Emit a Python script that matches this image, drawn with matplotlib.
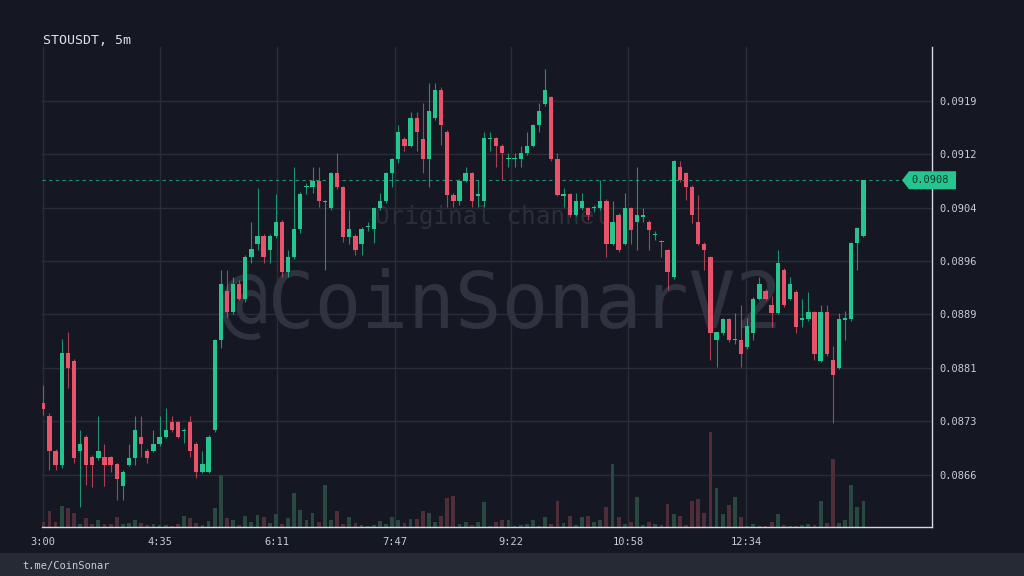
import matplotlib
matplotlib.use('Agg')
import matplotlib.pyplot as plt
from matplotlib.patches import Polygon, Rectangle
from matplotlib.transforms import blended_transform_factory
import numpy as np

# --- data (STOUSDT 5m candles, 3:00 onwards) ---
opens = [
    0.08764, 0.08745, 0.08696, 0.08676, 0.08834, 0.08824, 0.08695, 0.08716, 0.08687, 0.08685,
    0.08687, 0.08687, 0.08677, 0.08646, 0.08676, 0.08685, 0.08716, 0.08696, 0.08696, 0.08705,
    0.08716, 0.08736, 0.08736, 0.08724, 0.08736, 0.08706, 0.08666, 0.08666, 0.08725, 0.08853,
    0.08923, 0.08893, 0.08932, 0.08912, 0.08971, 0.08990, 0.09001, 0.08981, 0.09001, 0.09021,
    0.08950, 0.08971, 0.09011, 0.09070, 0.09070, 0.09079, 0.09049, 0.09040, 0.09090, 0.09070,
    0.09000, 0.09001, 0.08990, 0.09013, 0.09011, 0.09040, 0.09050, 0.09090, 0.09110, 0.09139,
    0.09129, 0.09168, 0.09139, 0.09110, 0.09168, 0.09208, 0.09149, 0.09059, 0.09050, 0.09079,
    0.09090, 0.09058, 0.09050, 0.09138, 0.09140, 0.09129, 0.09110, 0.09110, 0.09110, 0.09118,
    0.09129, 0.09158, 0.09188, 0.09198, 0.09110, 0.09058, 0.09060, 0.09031, 0.09040, 0.09040,
    0.09040, 0.09040, 0.09051, 0.08990, 0.09031, 0.08990, 0.09040, 0.09020, 0.09028, 0.09021,
    0.09002, 0.08993, 0.08981, 0.08943, 0.09099, 0.09090, 0.09071, 0.09021, 0.08990, 0.08971,
    0.08853, 0.08863, 0.08883, 0.08853, 0.08853, 0.08843, 0.08863, 0.08912, 0.08923, 0.08903,
    0.08892, 0.08953, 0.08912, 0.08922, 0.08882, 0.08883, 0.08893, 0.08824, 0.08893, 0.08825,
    0.08814, 0.08882, 0.08883, 0.08991, 0.09001,
]
highs = [
    0.08789, 0.08749, 0.08698, 0.08854, 0.08865, 0.08826, 0.08725, 0.08718, 0.08690, 0.08745,
    0.08706, 0.08689, 0.08679, 0.08668, 0.08705, 0.08745, 0.08745, 0.08698, 0.08725, 0.08745,
    0.08756, 0.08745, 0.08738, 0.08728, 0.08745, 0.08708, 0.08696, 0.08718, 0.08855, 0.08953,
    0.08953, 0.08943, 0.08938, 0.08974, 0.09021, 0.09069, 0.09003, 0.09003, 0.09061, 0.09024,
    0.08981, 0.09099, 0.09063, 0.09076, 0.09099, 0.09099, 0.09052, 0.09092, 0.09118, 0.09072,
    0.09038, 0.09003, 0.09013, 0.09020, 0.09042, 0.09062, 0.09092, 0.09112, 0.09158, 0.09141,
    0.09177, 0.09177, 0.09189, 0.09218, 0.09218, 0.09212, 0.09152, 0.09062, 0.09082, 0.09099,
    0.09092, 0.09080, 0.09149, 0.09149, 0.09142, 0.09131, 0.09118, 0.09118, 0.09129, 0.09149,
    0.09160, 0.09189, 0.09238, 0.09200, 0.09118, 0.09069, 0.09062, 0.09062, 0.09062, 0.09042,
    0.09045, 0.09080, 0.09053, 0.09051, 0.09033, 0.09062, 0.09042, 0.09099, 0.09040, 0.09023,
    0.09008, 0.08995, 0.08983, 0.09109, 0.09108, 0.09092, 0.09073, 0.09059, 0.08992, 0.08973,
    0.08865, 0.08885, 0.08885, 0.08891, 0.08903, 0.08884, 0.08914, 0.08943, 0.08925, 0.08915,
    0.08981, 0.08955, 0.08943, 0.08924, 0.08912, 0.08922, 0.08895, 0.08903, 0.08903, 0.08844,
    0.08891, 0.08894, 0.08993, 0.09013, 0.09081,
]
lows = [
    0.08747, 0.08669, 0.08668, 0.08672, 0.08785, 0.08678, 0.08616, 0.08647, 0.08645, 0.08683,
    0.08646, 0.08666, 0.08626, 0.08626, 0.08674, 0.08676, 0.08687, 0.08678, 0.08694, 0.08703,
    0.08714, 0.08723, 0.08714, 0.08707, 0.08687, 0.08657, 0.08664, 0.08664, 0.08723, 0.08842,
    0.08886, 0.08890, 0.08910, 0.08907, 0.08962, 0.08981, 0.08962, 0.08962, 0.08998, 0.08943,
    0.08943, 0.08968, 0.09005, 0.09060, 0.09062, 0.09042, 0.08953, 0.09038, 0.09068, 0.08993,
    0.08990, 0.08974, 0.08974, 0.09008, 0.08991, 0.09038, 0.09048, 0.09070, 0.09105, 0.09121,
    0.09127, 0.09121, 0.09090, 0.09071, 0.09165, 0.09130, 0.09042, 0.09042, 0.09045, 0.09077,
    0.09042, 0.09042, 0.09042, 0.09121, 0.09099, 0.09080, 0.09099, 0.09099, 0.09099, 0.09116,
    0.09127, 0.09149, 0.09186, 0.09108, 0.09057, 0.09042, 0.09028, 0.09029, 0.09038, 0.09024,
    0.09035, 0.09038, 0.08971, 0.08988, 0.08978, 0.08988, 0.08990, 0.08981, 0.09020, 0.08981,
    0.08995, 0.08971, 0.08924, 0.08940, 0.09078, 0.09052, 0.09019, 0.08988, 0.08953, 0.08825,
    0.08815, 0.08860, 0.08850, 0.08848, 0.08815, 0.08840, 0.08853, 0.08910, 0.08910, 0.08872,
    0.08890, 0.08900, 0.08910, 0.08863, 0.08872, 0.08880, 0.08825, 0.08822, 0.08831, 0.08735,
    0.08812, 0.08853, 0.08880, 0.08953, 0.08999,
]
closes = [
    0.08755, 0.08695, 0.08676, 0.08834, 0.08813, 0.08685, 0.08706, 0.08676, 0.08676, 0.08696,
    0.08676, 0.08676, 0.08656, 0.08666, 0.08686, 0.08725, 0.08705, 0.08685, 0.08706, 0.08716,
    0.08725, 0.08725, 0.08716, 0.08726, 0.08696, 0.08666, 0.08677, 0.08716, 0.08853, 0.08932,
    0.08893, 0.08932, 0.08912, 0.08971, 0.08982, 0.09001, 0.08971, 0.09001, 0.09021, 0.08950,
    0.08971, 0.09011, 0.09060, 0.09071, 0.09079, 0.09050, 0.09051, 0.09090, 0.09070, 0.09000,
    0.09011, 0.08981, 0.09011, 0.09015, 0.09040, 0.09050, 0.09090, 0.09110, 0.09149, 0.09129,
    0.09168, 0.09149, 0.09110, 0.09178, 0.09208, 0.09158, 0.09059, 0.09050, 0.09079, 0.09090,
    0.09050, 0.09060, 0.09140, 0.09140, 0.09129, 0.09118, 0.09111, 0.09111, 0.09119, 0.09129,
    0.09158, 0.09178, 0.09208, 0.09110, 0.09059, 0.09060, 0.09031, 0.09051, 0.09051, 0.09031,
    0.09041, 0.09051, 0.08990, 0.09021, 0.08981, 0.09040, 0.09010, 0.09031, 0.09030, 0.09010,
    0.09003, 0.08992, 0.08950, 0.09108, 0.09080, 0.09071, 0.09031, 0.08990, 0.08981, 0.08863,
    0.08864, 0.08883, 0.08853, 0.08854, 0.08833, 0.08873, 0.08912, 0.08933, 0.08912, 0.08892,
    0.08962, 0.08903, 0.08933, 0.08872, 0.08884, 0.08893, 0.08833, 0.08893, 0.08833, 0.08803,
    0.08883, 0.08884, 0.08991, 0.09012, 0.09080,
]
# relative volume (arbitrary units, tallest bar ~95)
volume = [
    5, 16, 5, 21, 19, 14, 3, 9, 3, 7, 3, 3, 10, 3, 4, 7, 4, 2, 3, 2,
    2, 1, 3, 11, 9, 4, 2, 6, 19, 52, 9, 7, 2, 11, 5, 12, 10, 4, 13, 3,
    9, 34, 17, 7, 14, 5, 42, 7, 16, 3, 10, 4, 2, 1, 2, 6, 3, 10, 7, 4,
    8, 8, 16, 14, 5, 11, 29, 31, 3, 5, 2, 5, 25, 1, 5, 7, 7, 1, 2, 3,
    7, 1, 10, 3, 26, 4, 11, 2, 10, 11, 5, 7, 20, 63, 10, 3, 5, 30, 2, 5,
    3, 2, 23, 13, 11, 2, 26, 28, 14, 95, 39, 13, 22, 30, 10, 1, 3, 1, 1, 5,
    13, 2, 1, 1, 2, 3, 2, 26, 4, 68, 4, 7, 42, 20, 26,
]
time_labels = ['3:00', '4:35', '6:11', '7:47', '9:22', '10:58', '12:34']
price_ticks = [0.08662, 0.08738, 0.08814, 0.08890, 0.08965, 0.09041, 0.09117, 0.09193]
price_labels = ['0.0866', '0.0873', '0.0881', '0.0889', '0.0896', '0.0904', '0.0912', '0.0919']

# --- style ---
BG = '#151823'
UP = '#26c48f'
DOWN = '#e9536a'
UP_VOL = '#29483f'
DOWN_VOL = '#502e39'
GRID = '#292d38'
TEXT = '#c9ccd3'
MONO = 'DejaVu Sans Mono'
plt.rcParams['font.family'] = MONO

W, H = 1024, 576
fig = plt.figure(figsize=(W / 100, H / 100), dpi=100, facecolor=BG)
ax = fig.add_axes([42 / W, 49 / H, 890 / W, 480 / H], facecolor=BG)

o = np.array(opens)
hi = np.array(highs)
lo = np.array(lows)
c = np.array(closes)
x = np.arange(len(c))
up = c >= o
colors = np.where(up, UP, DOWN)
vol_colors = np.where(up, UP_VOL, DOWN_VOL)

ylo, yhi = 0.085876, 0.092692
px = (yhi - ylo) / 480  # price per pixel

# volume bars along the bottom of the price pane
ax.bar(x, np.array(volume) * px, bottom=ylo, width=0.62, color=vol_colors, linewidth=0, zorder=1)

# candles
ax.vlines(x, lo, hi, colors=colors, linewidth=0.8, alpha=0.7, zorder=3)
body_lo = np.minimum(o, c)
body_h = np.maximum(np.abs(c - o), 1.4 * px)
ax.bar(x, body_h, bottom=body_lo, width=0.7, color=colors, linewidth=0, zorder=4)

# last price line + tag
last = c[-1]
ax.axhline(last, xmin=0, xmax=(902 - 42) / 890, color=UP, lw=0.8, ls=(0, (3, 3)), alpha=0.7, zorder=2)
trans = blended_transform_factory(fig.transFigure, ax.transData)
hh = 9 * px
tag = Polygon([(902 / W, last), (909 / W, last + hh), (956 / W, last + hh),
               (956 / W, last - hh), (909 / W, last - hh)],
              closed=True, transform=trans, facecolor=UP, edgecolor='none', clip_on=False, zorder=6)
ax.add_patch(tag)
ax.text(930 / W, last, f'{last:.4f}', transform=trans, ha='center', va='center',
        fontsize=7.5, color='#0b3a29', zorder=7, clip_on=False)

# watermarks
ax.text(502 / W, 1 - 306 / H, '@CoinSonarV2', transform=fig.transFigure, ha='center', va='center',
        fontsize=56, color='#2f333f', zorder=2)
ax.text(492 / W, 1 - 217 / H, 'Original channel', transform=fig.transFigure, ha='center', va='center',
        fontsize=17.5, color='#2b2f3a', zorder=2)

# axes
ax.set_xlim(-0.21, 145.2)
ax.set_ylim(ylo, yhi)
tick_pos = []
for t in time_labels:
    hh_, mm_ = t.split(':')
    tick_pos.append(((int(hh_) - 3) * 60 + int(mm_)) / 5)
ax.set_xticks(tick_pos)
ax.set_xticklabels(time_labels)
ax.yaxis.tick_right()
ax.set_yticks(price_ticks)
ax.set_yticklabels(price_labels)
ax.tick_params(axis='y', length=0, pad=5, labelsize=7.5, labelcolor=TEXT)
ax.tick_params(axis='x', length=0, pad=7, labelsize=7.5, labelcolor=TEXT)
ax.grid(True, color=GRID, linewidth=1)
ax.set_axisbelow(True)
for s in ['top', 'left']:
    ax.spines[s].set_visible(False)
for s in ['right', 'bottom']:
    ax.spines[s].set_color('#d6d8de')
    ax.spines[s].set_linewidth(1)

# header and footer
fig.text(43 / W, 1 - 40 / H, 'STOUSDT, 5m', fontsize=9.5, color='#e0e2e7', va='center')
fig.add_artist(Rectangle((0, 0), 1, 23 / H, transform=fig.transFigure, facecolor='#262a35',
                         edgecolor='none', zorder=0))
fig.text(22 / W, 10 / H, 't.me/CoinSonar', fontsize=7.5, color=TEXT, va='center')

fig.savefig('out.png', dpi=100, facecolor=BG)
